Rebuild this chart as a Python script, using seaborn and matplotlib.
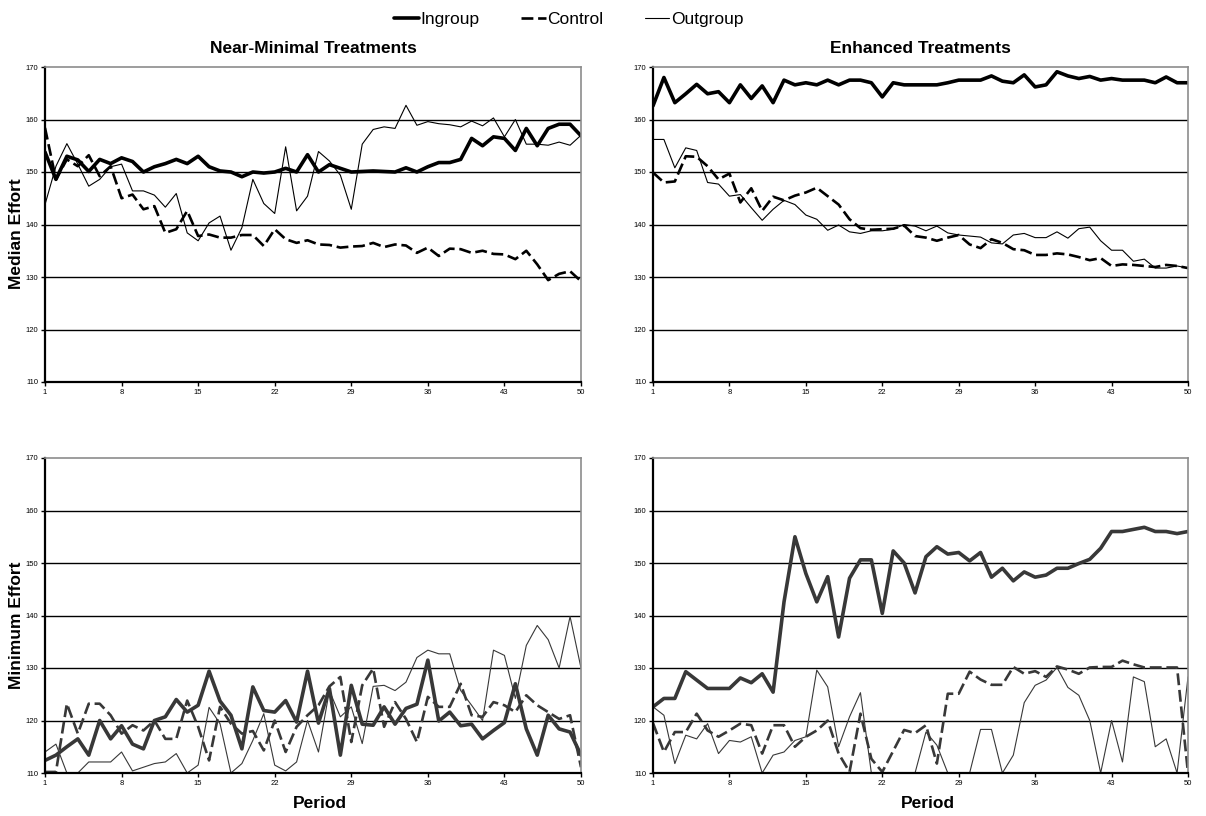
import matplotlib
matplotlib.use("Agg")
import matplotlib.pyplot as plt
import seaborn as sns

# --------------------------------------------
# Data
# --------------------------------------------
periods = list(range(1, 51))

# Near-minimal treatments, median effort
nm_med_ingroup = [153.8, 148.6, 153.0, 152.3, 150.1, 152.4, 151.6, 152.7, 152.0, 150.0,
                  151.0, 151.6, 152.4, 151.6, 153.0, 151.0, 150.2, 150.0, 149.1, 150.0,
                  149.8, 150.0, 150.7, 150.0, 153.3, 150.0, 151.4, 150.7, 150.0, 150.1,
                  150.2, 150.1, 150.0, 150.8, 150.0, 151.0, 151.8, 151.8, 152.4, 156.4,
                  155.0, 156.7, 156.4, 154.1, 158.3, 155.0, 158.3, 159.1, 159.1, 156.9]
nm_med_control = [158.4, 148.6, 152.4, 151.1, 153.2, 149.2, 151.1, 145.0, 145.7, 142.9,
                  143.5, 138.4, 139.1, 142.6, 137.8, 138.1, 137.5, 137.5, 138.0, 138.0,
                  135.9, 139.1, 137.2, 136.5, 137.0, 136.2, 136.1, 135.6, 135.8, 135.9,
                  136.5, 135.7, 136.2, 136.0, 134.6, 135.6, 134.0, 135.4, 135.3, 134.6,
                  135.0, 134.4, 134.3, 133.4, 135.0, 132.4, 129.4, 130.6, 131.1, 129.2]
nm_med_outgroup = [143.8, 151.1, 155.4, 151.5, 147.3, 148.6, 151.0, 151.5, 146.4, 146.4,
                   145.6, 143.3, 145.9, 138.4, 136.9, 140.3, 141.6, 135.1, 139.4, 148.6,
                   144.0, 142.1, 154.8, 142.6, 145.4, 153.9, 152.1, 149.4, 142.9, 155.3,
                   158.1, 158.6, 158.3, 162.7, 158.9, 159.6, 159.2, 159.0, 158.6, 159.7,
                   158.8, 160.3, 156.7, 160.0, 155.3, 155.3, 155.1, 155.7, 155.1, 157.0]

# Enhanced treatments, median effort
en_med_ingroup = [162.6, 168.0, 163.2, 164.9, 166.7, 164.9, 165.3, 163.2, 166.6, 164.0,
                  166.4, 163.2, 167.5, 166.6, 167.0, 166.6, 167.5, 166.6, 167.5, 167.5,
                  167.0, 164.3, 167.0, 166.6, 166.6, 166.6, 166.6, 167.0, 167.5, 167.5,
                  167.5, 168.3, 167.3, 167.0, 168.5, 166.2, 166.6, 169.1, 168.3, 167.8,
                  168.2, 167.5, 167.8, 167.5, 167.5, 167.5, 167.0, 168.1, 167.0, 167.0]
en_med_control = [149.9, 148.0, 148.2, 153.0, 152.9, 151.1, 148.6, 149.7, 144.2, 146.9,
                  142.6, 145.3, 144.6, 145.5, 146.1, 147.0, 145.4, 143.8, 141.0, 139.3,
                  139.0, 139.1, 139.2, 139.8, 137.8, 137.5, 136.9, 137.5, 138.0, 136.2,
                  135.5, 137.2, 136.5, 135.3, 135.1, 134.2, 134.2, 134.5, 134.3, 133.8,
                  133.2, 133.6, 132.1, 132.4, 132.3, 132.1, 131.9, 132.3, 132.1, 131.7]
en_med_outgroup = [156.2, 156.2, 150.8, 154.6, 154.1, 148.0, 147.7, 145.4, 145.7, 143.2,
                   140.8, 142.9, 144.6, 143.8, 141.8, 141.0, 138.9, 139.9, 138.6, 138.3,
                   138.8, 138.8, 139.1, 140.0, 139.7, 138.8, 139.7, 138.4, 138.0, 137.8,
                   137.6, 136.5, 136.3, 138.0, 138.3, 137.5, 137.5, 138.6, 137.4, 139.2,
                   139.5, 136.9, 135.1, 135.1, 133.0, 133.4, 131.7, 131.7, 132.1, 131.7]

# Near-minimal treatments, minimum effort
nm_min_ingroup = [112.4, 113.4, 115.0, 116.5, 113.4, 120.0, 116.5, 119.0, 115.5, 114.6,
                  120.0, 120.7, 124.0, 121.6, 122.9, 129.4, 123.7, 121.0, 114.6, 126.4,
                  121.9, 121.6, 123.8, 119.7, 129.4, 119.5, 126.1, 113.4, 126.7, 119.3,
                  119.1, 122.6, 119.3, 122.3, 123.1, 131.5, 119.9, 121.6, 119.0, 119.3,
                  116.5, 118.1, 119.6, 127.0, 118.4, 113.4, 121.0, 118.4, 117.8, 113.4]
nm_min_control = [110.2, 110.2, 123.2, 117.5, 123.2, 123.2, 121.0, 117.5, 119.1, 118.1,
                  120.0, 116.5, 116.5, 123.8, 118.8, 112.4, 122.6, 119.4, 117.5, 118.0,
                  114.3, 120.0, 114.0, 118.8, 121.0, 122.9, 126.5, 128.3, 115.9, 126.7,
                  129.9, 118.8, 123.5, 120.3, 115.9, 124.5, 122.6, 122.6, 127.0, 121.0,
                  120.7, 123.5, 122.9, 121.6, 124.8, 122.9, 121.6, 120.3, 121.0, 111.1]
nm_min_outgroup = [114.0, 115.5, 110.0, 110.0, 112.1, 112.1, 112.1, 114.0, 110.4, 111.1,
                   111.8, 112.1, 113.7, 110.0, 111.5, 122.5, 119.4, 110.0, 111.8, 116.2,
                   121.3, 111.5, 110.4, 112.1, 120.0, 114.0, 125.7, 120.7, 122.6, 115.6,
                   126.5, 126.7, 125.7, 127.3, 132.0, 133.4, 132.7, 132.7, 125.7, 122.9,
                   120.0, 133.4, 132.4, 124.2, 134.3, 138.1, 135.4, 130.0, 139.8, 130.0]

# Enhanced treatments, minimum effort
en_min_ingroup = [122.6, 124.2, 124.2, 129.3, 127.7, 126.1, 126.1, 126.1, 128.1, 127.2,
                  128.9, 125.4, 142.6, 155.0, 148.0, 142.6, 147.4, 135.9, 147.1, 150.6,
                  150.6, 140.4, 152.3, 150.0, 144.3, 151.2, 153.1, 151.7, 152.0, 150.4,
                  152.0, 147.3, 149.0, 146.6, 148.3, 147.3, 147.7, 149.0, 149.0, 149.9,
                  150.7, 152.8, 156.0, 156.0, 156.4, 156.8, 156.0, 156.0, 155.6, 156.0]
en_min_control = [119.5, 114.0, 117.8, 117.8, 121.3, 118.1, 116.9, 118.1, 119.4, 119.1,
                  113.7, 119.1, 119.1, 115.0, 116.9, 118.1, 120.0, 113.7, 110.2, 121.3,
                  112.7, 110.2, 114.2, 118.2, 117.6, 119.1, 111.8, 125.1, 125.1, 129.3,
                  127.8, 126.8, 126.8, 130.2, 128.9, 129.4, 128.3, 130.3, 129.7, 128.9,
                  130.1, 130.2, 130.2, 131.4, 130.7, 130.1, 130.1, 130.1, 130.1, 110.0]
en_min_outgroup = [122.6, 121.0, 111.8, 117.2, 116.5, 119.4, 113.7, 116.2, 115.9, 116.9,
                   110.0, 113.4, 114.0, 116.2, 116.9, 129.6, 126.4, 115.0, 120.7, 125.3,
                   110.0, 110.0, 110.0, 110.0, 110.0, 117.8, 115.3, 110.0, 110.0, 110.0,
                   118.3, 118.3, 110.0, 113.4, 123.4, 126.7, 127.7, 130.1, 126.3, 124.8,
                   120.0, 110.0, 120.0, 112.1, 128.3, 127.4, 115.0, 116.5, 110.0, 128.3]

x_ticks = [1, 8, 15, 22, 29, 36, 43, 50]
y_ticks = [110, 120, 130, 140, 150, 160, 170]

# --------------------------------------------
# Style
# --------------------------------------------
sns.set_style("white")
plt.rcParams['font.family'] = ['Liberation Sans', 'DejaVu Sans']
plt.rcParams['text.color'] = 'black'
plt.rcParams['axes.labelcolor'] = 'black'

fig = plt.figure(figsize=(12.06, 8.16), dpi=100)
W, H = 1206.0, 816.0

def make_axes(left, top, right, bottom):
    return fig.add_axes([left / W, 1 - bottom / H, (right - left) / W, (bottom - top) / H])

ax_tl = make_axes(45, 67, 581, 382)
ax_tr = make_axes(653, 67, 1188, 382)
ax_bl = make_axes(45, 458, 581, 773)
ax_br = make_axes(653, 458, 1188, 773)

dash = (0, (4.5, 1.8))

def draw_panel(ax, ingroup, control, outgroup, color):
    sns.lineplot(x=periods, y=ingroup, ax=ax, color=color, linewidth=2.6, label="Ingroup")
    sns.lineplot(x=periods, y=control, ax=ax, color=color, linewidth=1.9,
                 linestyle=dash, label="Control")
    sns.lineplot(x=periods, y=outgroup, ax=ax, color=color, linewidth=0.8, label="Outgroup")
    if ax.get_legend() is not None:
        ax.get_legend().remove()

    ax.set_xlim(1, 50)
    ax.set_ylim(110, 170)
    ax.set_xticks(x_ticks)
    ax.set_yticks(y_ticks)
    ax.tick_params(axis='both', direction='out', length=3, width=1,
                   labelsize=5.5, pad=2, colors='black', left=True, bottom=True)
    ax.grid(axis='y', color='black', linewidth=1.0)
    ax.grid(axis='x', visible=False)
    gl = ax.get_ygridlines()
    gl[0].set_visible(False)
    gl[-1].set_visible(False)
    ax.set_axisbelow(True)

    ax.spines['left'].set_color('black')
    ax.spines['left'].set_linewidth(1.6)
    ax.spines['bottom'].set_color('black')
    ax.spines['bottom'].set_linewidth(1.6)
    ax.spines['top'].set_color('#8c8c8c')
    ax.spines['top'].set_linewidth(1.2)
    ax.spines['right'].set_color('#8c8c8c')
    ax.spines['right'].set_linewidth(1.2)
    ax.set_xlabel("")
    ax.set_ylabel("")

draw_panel(ax_tl, nm_med_ingroup, nm_med_control, nm_med_outgroup, 'black')
draw_panel(ax_tr, en_med_ingroup, en_med_control, en_med_outgroup, 'black')
draw_panel(ax_bl, nm_min_ingroup, nm_min_control, nm_min_outgroup, '#383838')
draw_panel(ax_br, en_min_ingroup, en_min_control, en_min_outgroup, '#383838')

# titles and labels
ax_tl.set_title("Near-Minimal Treatments", fontsize=12.5, fontweight='bold', pad=10, color='black')
ax_tr.set_title("Enhanced Treatments", fontsize=12.5, fontweight='bold', pad=10, color='black')

ax_tl.set_ylabel("Median Effort", fontsize=12.5, fontweight='bold')
ax_tl.yaxis.set_label_coords(-0.040, 0.47)
ax_bl.set_ylabel("Minimum Effort", fontsize=12.5, fontweight='bold')
ax_bl.yaxis.set_label_coords(-0.040, 0.47)

ax_bl.set_xlabel("Period", fontsize=12.5, fontweight='bold')
ax_bl.xaxis.set_label_coords(0.513, -0.074)
ax_br.set_xlabel("Period", fontsize=12.5, fontweight='bold')
ax_br.xaxis.set_label_coords(0.513, -0.074)

# shared legend on top
handles, labels = ax_tl.get_legend_handles_labels()
fig.legend(handles, labels, loc='center', bbox_to_anchor=(569 / W, 1 - 19 / H),
           ncol=3, frameon=False, fontsize=12.5, handlelength=1.4,
           handletextpad=0.1, columnspacing=2.4, labelcolor='black')

fig.savefig("out.png", dpi=100)
